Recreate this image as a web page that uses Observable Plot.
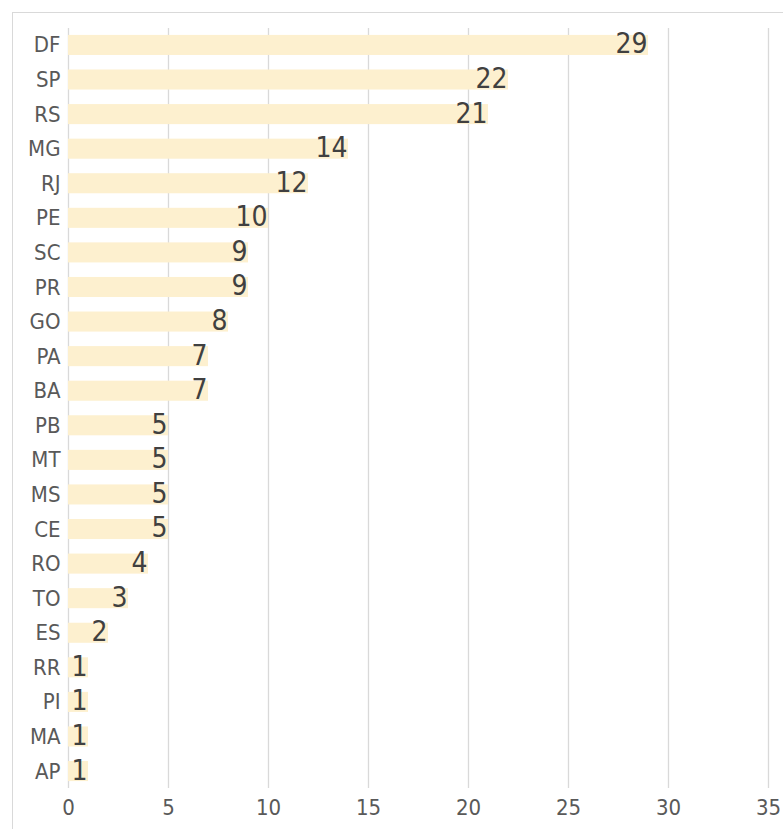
<!DOCTYPE html>
<html>
<head>
<meta charset="utf-8">
<script src="https://cdn.jsdelivr.net/npm/d3@7"></script>
<script src="https://cdn.jsdelivr.net/npm/@observablehq/plot@0.6"></script>
<style>
  html, body { margin: 0; padding: 0; background: #fff; overflow: hidden; }
  #wrap { position: relative; width: 783px; height: 829px; }
  #border { position: absolute; left: 12px; top: 12px; width: 800px; height: 850px; border: 1px solid #d9d9d9; box-sizing: border-box; pointer-events: none; }
  #chart { position: absolute; left: 0; top: 0; }
  #chart svg text { font-stretch: condensed; }
</style>
</head>
<body>
<div id="wrap"><div id="border"></div><div id="chart"></div></div>
<script>
const states = ["DF","SP","RS","MG","RJ","PE","SC","PR","GO","PA","BA","PB","MT","MS","CE","RO","TO","ES","RR","PI","MA","AP"];
const counts = [29,22,21,14,12,10,9,9,8,7,7,5,5,5,5,4,3,2,1,1,1,1];
const xTicks = [0,5,10,15,20,25,30,35];

const data = states.map((s, i) => ({state: s, count: counts[i]}));
const font = "'DejaVu Sans Condensed', 'DejaVu Sans', sans-serif";

const chart = Plot.plot({
  width: 783,
  height: 829,
  marginLeft: 68,
  marginRight: 15,
  marginTop: 28,
  marginBottom: 41,
  style: {fontFamily: font, background: "transparent", overflow: "visible"},
  x: {domain: [0, 35], ticks: xTicks, label: null},
  y: {domain: states, paddingInner: 0.42, paddingOuter: 0.2, round: false, label: null},
  marks: [
    Plot.gridX(xTicks, {stroke: "#d9d9d9", strokeOpacity: 1, strokeWidth: 1.3}),
    Plot.barX(data, {x: "count", y: "state", fill: "#fdf0cf"}),
    Plot.text(data, {x: "count", y: "state", text: d => String(d.count), textAnchor: "end", dx: -1, dy: -1, fontSize: 28, letterSpacing: -1.5, fill: "#404040"}),
    Plot.axisY({tickSize: 0, tickPadding: 8, fontSize: 22, letterSpacing: -1, color: "#595959", label: null}),
    Plot.axisX({ticks: xTicks, tickSize: 0, tickPadding: 11, fontSize: 22, letterSpacing: -1, color: "#595959", label: null})
  ]
});
document.getElementById("chart").appendChild(chart);
</script>
</body>
</html>
